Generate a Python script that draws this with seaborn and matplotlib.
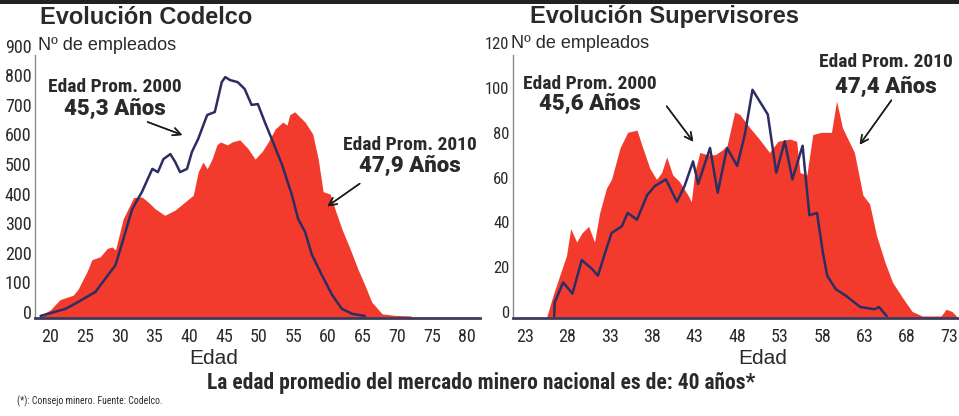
import matplotlib
matplotlib.use("Agg")
import matplotlib.pyplot as plt
import matplotlib.transforms as mtransforms
from matplotlib import font_manager as fm
from matplotlib.patches import Rectangle
import pandas as pd
import seaborn as sns

# Valores (edad, nº de empleados)
# Codelco - año 2000 (línea)
codelco_2000_edad = [18.6, 20.7, 22.2, 24.0, 26.5, 27.9, 29.4, 30.4, 31.8, 33.2, 34.7, 35.5, 36.3, 37.3,
                     38.0, 38.7, 39.7, 40.4, 41.3, 42.6, 43.7, 44.7, 45.2, 45.9, 47.0, 48.0, 49.0, 49.9,
                     50.9, 51.9, 53.4, 54.8, 55.7, 56.7, 57.7, 59.1, 60.6, 62.0, 63.5, 65.3]
codelco_2000_emp = [0, 14, 24, 47, 81, 125, 172, 250, 361, 419, 497, 486, 530, 547,
                    520, 486, 497, 554, 598, 679, 689, 790, 807, 797, 790, 767, 713, 716,
                    655, 598, 510, 409, 328, 284, 206, 139, 71, 24, 7, 0]
# Codelco - año 2010 (área roja)
codelco_2010_edad = [18.5, 20.0, 21.4, 23.3, 24.0, 25.3, 26.0, 27.2, 28.2, 28.9, 29.4, 30.5, 32.0, 33.2,
                     34.1, 35.1, 36.5, 38.0, 39.4, 40.6, 41.3, 42.0, 42.6, 43.3, 44.0, 44.5, 45.5, 46.2,
                     47.3, 48.5, 49.5, 50.5, 51.4, 52.4, 53.5, 54.1, 54.5, 55.2, 56.7, 57.8, 58.6, 59.3,
                     60.3, 61.0, 62.0, 63.2, 64.3, 65.3, 66.3, 67.8, 69.6, 72.0]
codelco_2010_emp = [0, 20, 55, 70, 90, 150, 190, 200, 228, 233, 223, 328, 400, 402,
                    385, 362, 340, 358, 385, 408, 486, 520, 497, 530, 578, 588, 578, 588,
                    595, 565, 530, 555, 588, 632, 655, 645, 680, 690, 655, 615, 530, 420,
                    412, 362, 294, 226, 159, 105, 47, 7, 2, 0]

# Supervisores - año 2000 (línea)
sup_2000_edad = [26.45, 26.5, 27.5, 28.6, 29.7, 30.9, 31.6, 32.6, 33.2, 34.4, 35.1, 36.2, 37.4, 38.3,
                 39.6, 40.9, 41.8, 42.8, 43.4, 44.8, 45.7, 46.8, 48.0, 48.9, 49.8, 51.6, 52.6, 53.6,
                 54.5, 55.7, 56.5, 57.4, 58.1, 58.6, 59.6, 60.8, 62.5, 64.2, 64.7, 65.6]
sup_2000_emp = [0, 6, 15, 10, 25, 21, 18, 30, 37, 40, 46, 43, 54, 58,
                61, 51, 58, 69, 59, 75, 55, 75, 67, 81, 101, 90, 64, 78,
                61, 76, 45, 46, 28, 18, 12, 9, 4, 3, 4, 0]
# Supervisores - año 2010 (área roja)
sup_2010_edad = [25.6, 26.3, 27.9, 28.4, 29.1, 29.7, 30.5, 31.2, 31.8, 32.6, 33.2, 34.2, 35.1, 36.2,
                 36.8, 37.7, 38.5, 39.1, 39.7, 40.4, 41.2, 42.2, 42.6, 43.0, 43.6, 44.5, 45.4, 46.2,
                 46.8, 47.7, 48.3, 49.5, 50.6, 51.8, 52.8, 54.2, 55.0, 55.4, 56.2, 56.9, 57.9, 59.1,
                 59.7, 60.4, 61.8, 62.8, 63.6, 64.4, 65.4, 66.3, 67.5, 68.6, 69.8, 72.0, 72.6, 73.3, 73.8]
sup_2010_emp = [0, 9, 27, 39, 33, 37, 40, 33, 46, 57, 61, 75, 82, 83,
                76, 66, 61, 64, 71, 63, 60, 54, 51, 64, 73, 72, 72, 74,
                76, 91, 90, 84, 79, 73, 78, 79, 78, 64, 63, 81, 82, 82,
                96, 84, 73, 54, 50, 36, 24, 15, 8, 2, 0, 0, 3, 2, 0]

codelco_xticks = [20, 25, 30, 35, 40, 45, 50, 55, 60, 65, 70, 75, 80]
codelco_yticks = [0, 100, 200, 300, 400, 500, 600, 700, 800, 900]
sup_xticks = [23, 28, 33, 38, 43, 48, 53, 58, 63, 68, 73]
sup_yticks = [0, 20, 40, 60, 80, 100, 120]

sns.set_style("white")
plt.rcParams["font.family"] = ["Liberation Sans", "DejaVu Sans"]

ROJO = "#f23b2c"
AZUL = "#2c2e63"
TEXTO = "#2a2a2a"


def peso(f):
    w = f.weight
    if isinstance(w, str):
        w = fm.weight_dict.get(w, 400)
    return int(w)


def fuente_angosta(negrita):
    # busca una fuente condensada instalada (Liberation Sans Narrow, Roboto Condensed, ...)
    preferidas = ["liberationsansnarrow", "robotocondensed", "dejavusanscondensed", "opensans_condensed",
                  "opensanscondensed", "condensed", "narrow"]
    objetivo = 700 if negrita else 400
    for clave in preferidas:
        cands = [f for f in fm.fontManager.ttflist
                 if clave in f.fname.lower().replace("-", "").replace(" ", "")
                 and f.style == "normal"]
        if cands:
            cands.sort(key=lambda f: abs(peso(f) - objetivo))
            return dict(fname=cands[0].fname), True
    return dict(family="Liberation Sans", weight="bold" if negrita else "normal"), False


def fuente_negra():
    for fam in ["Roboto", "Lato", "Inter", "Open Sans", "Noto Sans"]:
        cands = [f for f in fm.fontManager.ttflist
                 if f.name == fam and f.style == "normal" and peso(f) >= 800]
        if cands:
            cands.sort(key=lambda f: -peso(f))
            return dict(fname=cands[0].fname)
    return dict(family="Liberation Sans", weight="bold")


ANG_REG, hay_angosta = fuente_angosta(False)
ANG_BOLD, _ = fuente_angosta(True)
NEGRA = fuente_negra()
# si no hay fuente angosta se reduce el tamaño
F = 1.0 if hay_angosta else 0.86


def fp(base, size):
    return fm.FontProperties(size=size, **base)


W, H = 959, 416
fig = plt.figure(figsize=(W / 100, H / 100), dpi=100)
fig.patch.set_facecolor("white")


def ejes_px(x0, x1, y_top, y_bot):
    return fig.add_axes([x0 / W, 1 - y_bot / H, (x1 - x0) / W, (y_bot - y_top) / H])


def texto(x, y, s, **kw):
    fig.text(x / W, 1 - y / H, s, color=TEXTO, **kw)


def panel(ax, edad_10, emp_10, edad_00, emp_00, xlim, ylim, xticks, yticks, tope_spine, tam_y):
    ax.fill_between(edad_10, ylim[0], emp_10, color=ROJO, lw=0, zorder=1)
    df = pd.DataFrame({"edad": edad_00, "emp": emp_00})
    sns.lineplot(data=df, x="edad", y="emp", ax=ax, color=AZUL, lw=1.8,
                 sort=False, estimator=None, zorder=3)
    ax.set_xlim(*xlim)
    ax.set_ylim(*ylim)
    ax.set_xticks(xticks)
    ax.set_yticks(yticks)
    ax.set_xlabel("")
    ax.set_ylabel("")
    ax.set_facecolor("none")
    for s in ["top", "right"]:
        ax.spines[s].set_visible(False)
    ax.spines["left"].set_color("#8a8a8a")
    ax.spines["left"].set_linewidth(1.0)
    ax.spines["left"].set_bounds(ylim[0], tope_spine)
    ax.spines["bottom"].set_color("#3b3b5e")
    ax.spines["bottom"].set_linewidth(2.0)
    ax.spines["bottom"].set_zorder(5)
    ax.tick_params(axis="both", length=0, labelcolor=TEXTO)
    ax.tick_params(axis="x", pad=7.5)
    ax.tick_params(axis="y", pad=2.5)
    for lab in ax.get_xticklabels():
        lab.set_fontproperties(fp(ANG_REG, 13 * F))
    for lab in ax.get_yticklabels():
        lab.set_fontproperties(fp(ANG_REG, tam_y * F))
    # las etiquetas del eje y van algo más arriba que la línea de datos
    desplaz = mtransforms.ScaledTranslation(0, 4 / 100, fig.dpi_scale_trans)
    for lab in ax.get_yticklabels():
        lab.set_transform(lab.get_transform() + desplaz)


ax1 = ejes_px(35, 480, 49.6, 318)
ax2 = ejes_px(513, 958, 47.2, 318)

panel(ax1, codelco_2010_edad, codelco_2010_emp, codelco_2000_edad, codelco_2000_emp,
      (17.8, 81.9), (-7, 900), codelco_xticks, codelco_yticks, 882, 13)
panel(ax2, sup_2010_edad, sup_2010_emp, sup_2000_edad, sup_2000_emp,
      (21.6, 74.0), (-0.9, 120), sup_xticks, sup_yticks, 116.5, 12)

# barra oscura superior
fig.add_artist(Rectangle((0, 1 - 4 / H), 1, 4 / H, transform=fig.transFigure,
                         color="#222222", lw=0))

# títulos
texto(40, 17, "Evolución Codelco", fontsize=17, fontweight="bold", va="center", ha="left")
texto(530, 17, "Evolución Supervisores", fontsize=17, fontweight="bold", va="center", ha="left")
texto(38, 45, "Nº de empleados", fontsize=13, va="center", ha="left")
texto(511, 43, "Nº de empleados", fontsize=13, va="center", ha="left")

# etiquetas del eje x
texto(214, 359, "Edad", fontsize=15, va="center", ha="center")
texto(763, 359, "Edad", fontsize=15, va="center", ha="center")

# anotaciones de edad promedio
notas = [
    (115, 87, 109, "Edad Prom. 2000", "45,3 Años", (145, 121), (185, 136)),
    (410, 145, 166, "Edad Prom. 2010", "47,9 Años", (362, 182), (325, 208)),
    (590, 84, 104, "Edad Prom. 2000", "45,6 Años", (665, 104), (695, 144)),
    (886, 62, 87, "Edad Prom. 2010", "47,4 Años", (893, 98), (858, 147)),
]
for xc, y1, y2, linea1, linea2, desde, hasta in notas:
    texto(xc, y1, linea1, fontproperties=fp(ANG_BOLD, 14 * F), va="center", ha="center")
    texto(xc, y2, linea2, fontproperties=fp(NEGRA, 16), va="center", ha="center")
    fig.add_artist(plt.annotate("", xy=(hasta[0] / W, 1 - hasta[1] / H), xycoords="figure fraction",
                                xytext=(desde[0] / W, 1 - desde[1] / H), textcoords="figure fraction",
                                arrowprops=dict(arrowstyle="->", color="#1e1e1e", lw=1.1,
                                                mutation_scale=14)))

# pie
texto(481, 383, "La edad promedio del mercado minero nacional es de: 40 años*",
      fontproperties=fp(ANG_BOLD, 15.5 * F), va="center", ha="center")
texto(17, 401, "(*): Consejo minero. Fuente: Codelco.", fontproperties=fp(ANG_REG, 7 * F),
      va="center", ha="left")

plt.savefig("out.png", dpi=100)
plt.close()
